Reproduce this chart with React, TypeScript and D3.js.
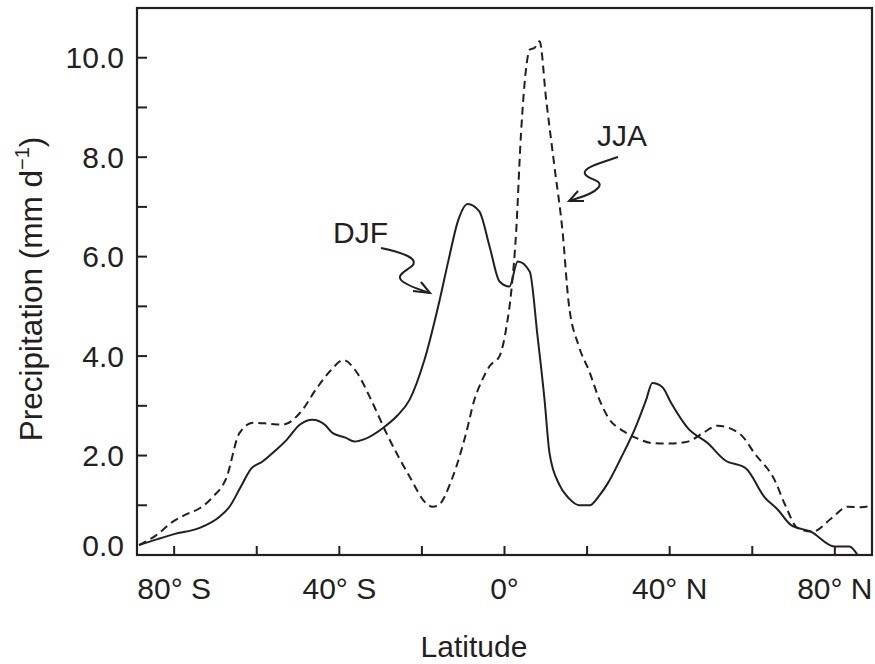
import React from "react";
import * as d3 from "d3";

const djfLat = [-88.5, -84, -80, -74, -69, -66.6, -64, -61.3, -58.6, -55.5, -52.8, -49.6, -46.5, -43.5, -41.6, -38.5, -36.3, -33.9, -29.5, -26, -23, -19.4, -15.7, -13.5, -11.3, -8.9, -6.1, -3.6, -1.2, 1.2, 3.2, 6.1, 8, 9.7, 10.9, 13.3, 15.5, 18.2, 20.6, 23, 25, 28.2, 31.5, 34.3, 35.8, 38.2, 40.4, 44.4, 49.2, 53.3, 58.5, 62.9, 66.2, 69.4, 74.2, 79.9, 83.5, 85.5];
const djfVal = [0.2, 0.32, 0.42, 0.54, 0.77, 0.97, 1.35, 1.74, 1.88, 2.1, 2.31, 2.62, 2.72, 2.62, 2.45, 2.36, 2.28, 2.33, 2.55, 2.8, 3.12, 3.92, 5.13, 5.95, 6.71, 7.06, 6.91, 6.2, 5.5, 5.4, 5.9, 5.7, 4.4, 3.12, 2.05, 1.41, 1.15, 1.0, 1.0, 1.2, 1.44, 1.95, 2.52, 3.12, 3.46, 3.38, 3.05, 2.55, 2.25, 1.91, 1.74, 1.17, 0.91, 0.6, 0.47, 0.17, 0.17, 0];

const jjaLat = [-88.5, -84.3, -80.3, -77, -73.8, -70.6, -67.4, -64.2, -60.9, -57, -53.7, -49.6, -45.5, -42, -39, -36, -32.3, -28.6, -23, -19, -17.4, -16.2, -12.5, -9.3, -7.3, -5.5, -3.6, -1.2, 0.5, 1.6, 2.8, 4.0, 5.4, 6.1, 7.3, 8.5, 10.1, 12.1, 14.1, 15.5, 18, 20.5, 23, 25, 29, 32, 35.9, 40, 44.4, 48, 51.6, 54.5, 57.7, 60.5, 65.4, 68, 71, 74.6, 79.2, 83.1, 86.3, 88.8];
const jjaVal = [0.2, 0.4, 0.67, 0.82, 0.94, 1.17, 1.54, 2.45, 2.66, 2.64, 2.62, 2.85, 3.35, 3.72, 3.92, 3.7, 3.12, 2.45, 1.58, 1.04, 0.97, 0.99, 1.58, 2.45, 3.12, 3.5, 3.8, 4.0, 4.6, 5.27, 6.47, 8.48, 9.9, 10.16, 10.2, 10.33, 9.15, 7.81, 6.47, 5.1, 4.2, 3.7, 3.12, 2.78, 2.48, 2.35, 2.25, 2.24, 2.28, 2.45, 2.6, 2.55, 2.38, 2.05, 1.51, 1.0, 0.54, 0.47, 0.74, 0.97, 0.96, 0.99];

const yTicksMajor = [0, 2, 4, 6, 8, 10];
const yTicksMinor = [1, 3, 5, 7, 9];
const yTickLabels = ["0.0", "2.0", "4.0", "6.0", "8.0", "10.0"];
const xTicks = [-80, -60, -40, -20, 0, 20, 40, 60, 80];
const xLabelValues = [-80, -40, 0, 40, 80];
const xLabels = ["80° S", "40° S", "0°", "40° N", "80° N"];

const INK = "#231f20";
const FONT = "'Liberation Sans', Arial, Helvetica, sans-serif";

export default function App() {
  const W = 875, H = 664;
  const left = 137, right = 872, top = 8, bottom = 555;
  const x = d3.scaleLinear().domain([-89, 89]).range([left, right]);
  const y = d3.scaleLinear().domain([0, 11]).range([bottom, top]);

  const line = d3
    .line<[number, number]>()
    .x((d) => x(d[0]))
    .y((d) => y(d[1]))
    .curve(d3.curveMonotoneX);

  const djf = line(djfLat.map((v, i) => [v, djfVal[i]] as [number, number])) || "";
  const jja = line(jjaLat.map((v, i) => [v, jjaVal[i]] as [number, number])) || "";

  return (
    <svg width={W} height={H} style={{ position: "absolute", left: 0, top: 0, background: "#fff" }} fontFamily={FONT}>
      <path d={djf} fill="none" stroke={INK} strokeWidth={2} strokeLinejoin="round" />
      <path d={jja} fill="none" stroke={INK} strokeWidth={2} strokeDasharray="8,5" strokeLinejoin="round" />

      <rect x={left} y={top} width={right - left} height={bottom - top} fill="none" stroke={INK} strokeWidth={2.2} />

      {yTicksMajor.concat(yTicksMinor).map((t) => (
        <line key={"yt" + t} x1={left} x2={left + 10} y1={y(t)} y2={y(t)} stroke={INK} strokeWidth={2} />
      ))}
      {yTicksMajor.map((t, i) => (
        <text key={"yl" + t} x={124} y={y(t) + (t === 0 ? -10 : 0)} dy="0.35em" textAnchor="end" fontSize={30} fill={INK}>
          {yTickLabels[i]}
        </text>
      ))}
      {xTicks.map((t) => (
        <line key={"xt" + t} x1={x(t)} x2={x(t)} y1={bottom} y2={bottom - 9} stroke={INK} strokeWidth={2} />
      ))}
      {xLabelValues.map((t, i) => (
        <text key={"xl" + t} x={x(t)} y={599} textAnchor="middle" fontSize={30} fill={INK}>
          {xLabels[i]}
        </text>
      ))}
      <text x={474} y={657} textAnchor="middle" fontSize={30} fill={INK}>Latitude</text>
      <text transform="translate(42,289) rotate(-90)" textAnchor="middle" fontSize={31.5} fill={INK}>
        Precipitation (mm d<tspan dy="-13" fontSize={20}>−1</tspan><tspan dy="13">)</tspan>
      </text>

      <text x={333} y={243} fontSize={30} fill={INK}>DJF</text>
      <path d="M381,248 C400,252 420,258 412,266 C405,272 393,276 405,283 C413,288 422,290 430,293" fill="none" stroke={INK} strokeWidth={2} />
      <path d="M421,282 L430,293 L413,291" fill="none" stroke={INK} strokeWidth={2} />

      <text x={597} y={146} fontSize={30} fill={INK}>JJA</text>
      <path d="M618,157 C600,163 582,168 585,174 C588,180 605,180 598,188 C592,195 578,198 569,201" fill="none" stroke={INK} strokeWidth={2} />
      <path d="M578,191 L569,201 L584,201" fill="none" stroke={INK} strokeWidth={2} />
    </svg>
  );
}
